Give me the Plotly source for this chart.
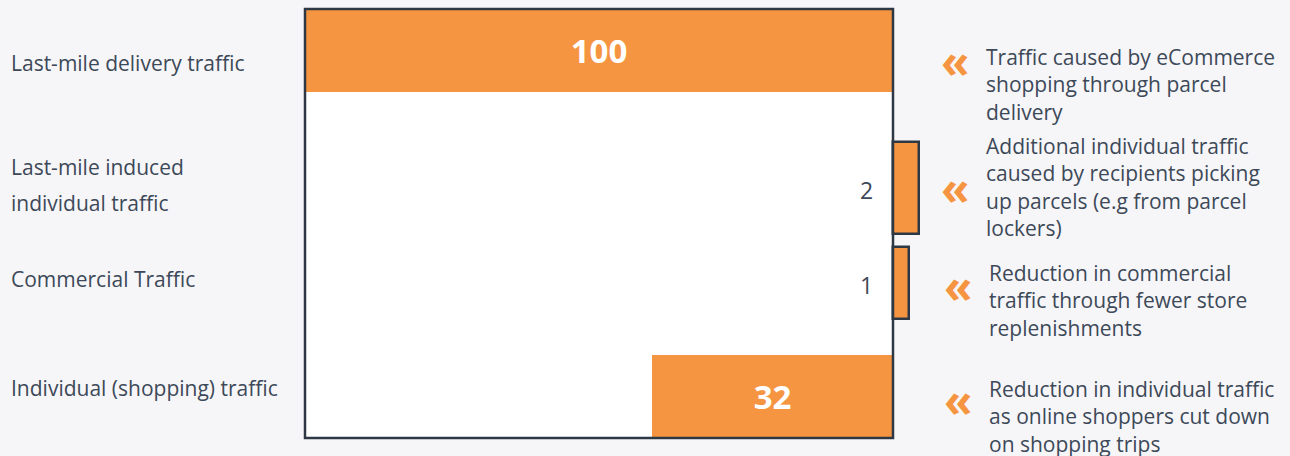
import plotly.graph_objects as go

# ---- data ----
categories = ["Last-mile delivery traffic", "Last-mile induced individual traffic",
              "Commercial Traffic", "Individual (shopping) traffic"]
value_labels = [100, 2, 1, 32]
# bar lengths as drawn in the picture (the infographic is not to scale)
drawn_lengths = [100, 4.4, 2.7, 41]
descriptions = [
    "Traffic caused by eCommerce<br>shopping through parcel<br>delivery",
    "Additional individual traffic<br>caused by recipients picking<br>up parcels (e.g from parcel<br>lockers)",
    "Reduction in commercial<br>traffic through fewer store<br>replenishments",
    "Reduction in individual traffic<br>as online shoppers cut down<br>on shopping trips",
]

# ---- style / layout ----
W, H = 1290, 456
BG = "#f6f6f8"
ORANGE = "#f69541"
DARK = "#2e3845"
TEXT = "#3d4958"
FONT = "Open Sans"

x0_px, x100_px = 305, 893
ppu = (x100_px - x0_px) / 100.0
x_range = [-x0_px / ppu, (W - x0_px) / ppu]

row_centers = [50.5, 188, 283, 396.5]
row_thick = [83, 92, 72, 83]
box_top, box_bot = 9, 438

kinds = ["start", "add", "add", "reduce"]
bases = []
for k, L in zip(kinds, drawn_lengths):
    if k == "start":
        bases.append(0)
    elif k == "add":
        bases.append(100)
    else:
        bases.append(100 - L)

inside_text = [str(v) if k in ("start", "reduce") else "" for v, k in zip(value_labels, kinds)]
line_w = [0 if k in ("start", "reduce") else 2.5 for k in kinds]

fig = go.Figure()
fig.add_trace(go.Bar(
    orientation="h",
    x=drawn_lengths,
    base=bases,
    y=row_centers,
    width=row_thick,
    marker=dict(color=ORANGE, line=dict(color=DARK, width=line_w)),
    text=inside_text,
    textposition="inside",
    insidetextanchor="middle",
    textfont=dict(family=FONT, size=33, color="white", weight="bold"),
    hoverinfo="skip",
    showlegend=False,
))

shapes = [
    dict(type="rect", xref="x", yref="y", x0=0, x1=100, y0=box_top, y1=box_bot,
         fillcolor="white", line=dict(width=0), layer="below"),
    dict(type="rect", xref="x", yref="y", x0=0, x1=100, y0=box_top, y1=box_bot,
         fillcolor="rgba(0,0,0,0)", line=dict(color=DARK, width=2.5), layer="above"),
]

annotations = []
# values for small additions, shown inside the box
for v, k, yc in zip(value_labels, kinds, row_centers):
    if k == "add":
        annotations.append(dict(x=100, y=yc + 2, xref="x", yref="y", text=str(v),
                                xanchor="right", yanchor="middle", xshift=-18,
                                showarrow=False,
                                font=dict(family=FONT, size=23, color=TEXT)))

# left category labels
left_lines = [
    ("Last-mile delivery traffic", 63),
    ("Last-mile induced", 167),
    ("individual traffic", 203),
    ("Commercial Traffic", 279),
    ("Individual (shopping) traffic", 388),
]
for t, yp in left_lines:
    annotations.append(dict(x=9 / W, y=1 - yp / H, xref="paper", yref="paper", text=t,
                            xanchor="left", yanchor="middle", showarrow=False,
                            font=dict(family=FONT, size=21, color=TEXT)))

# right descriptions with chevrons
desc_pos = [(984, 84, 955, 60), (984, 187.5, 955, 187), (987, 300, 958, 285), (987, 416, 958, 399)]
for d, (tx, ty, cx, cy) in zip(descriptions, desc_pos):
    annotations.append(dict(x=tx / W, y=1 - ty / H, xref="paper", yref="paper", text=d,
                            xanchor="left", yanchor="middle", align="left", showarrow=False,
                            font=dict(family=FONT, size=21, color=TEXT)))
    annotations.append(dict(x=cx / W, y=1 - cy / H, xref="paper", yref="paper", text="<b>«</b>",
                            xanchor="center", yanchor="middle", showarrow=False,
                            font=dict(family=FONT, size=46, color=ORANGE)))

fig.update_layout(
    width=W, height=H,
    margin=dict(l=0, r=0, t=0, b=0),
    paper_bgcolor=BG, plot_bgcolor=BG,
    xaxis=dict(range=x_range, visible=False, fixedrange=True),
    yaxis=dict(range=[H, 0], visible=False, fixedrange=True),
    shapes=shapes,
    annotations=annotations,
    bargap=0,
)

fig.write_html(
    "out.html",
    config={"displayModeBar": False},
    post_script="document.body.style.margin='0';document.body.style.overflow='hidden';"
                "document.body.style.background='%s';" % BG,
)
